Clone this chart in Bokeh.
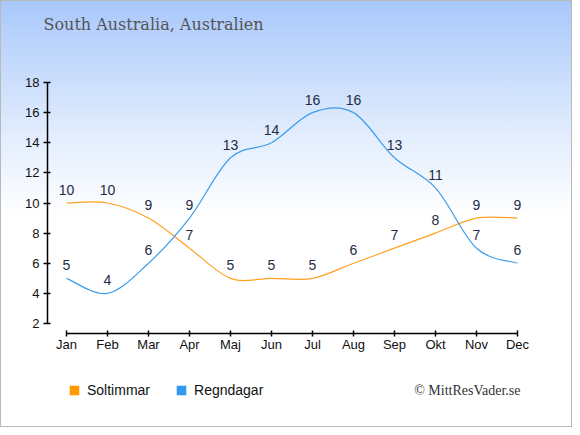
from bokeh.plotting import figure
from bokeh.models import Legend, LegendItem, Label, FixedTicker, Range1d
from bokeh.embed import file_html
from bokeh.resources import INLINE
from bokeh.core.properties import value

months = ["Jan", "Feb", "Mar", "Apr", "Maj", "Jun", "Jul", "Aug", "Sep", "Okt", "Nov", "Dec"]
soltimmar = [10, 10, 9, 7, 5, 5, 5, 6, 7, 8, 9, 9]
regndagar = [5, 4, 6, 9, 13, 14, 16, 16, 13, 11, 7, 6]
y_ticks = [2, 4, 6, 8, 10, 12, 14, 16, 18]
title_text = "South Australia, Australien"
credit_text = "© MittResVader.se"

ORANGE = "#ffa01e"
BLUE = "#3d9ce9"
LBL = "#1f2d44"

W, H = 572, 427
XPX = 41.0          # px per month
YPX = 241 / 16.0    # px per unit
x0 = -66 / XPX
y0 = 2 - (H - 323) / YPX

xs = list(range(len(months)))

p = figure(width=W, height=H, output_backend="svg", toolbar_location=None,
           x_range=Range1d(x0, x0 + W / XPX), y_range=Range1d(y0, y0 + H / YPX),
           min_border_left=0, min_border_right=0, min_border_top=0, min_border_bottom=0)
p.styles = {"background": "linear-gradient(to bottom, #a8c8fb 0px, #dce9fd 120px, #ffffff 215px, #ffffff 100%)",
            "box-shadow": "inset 0 0 0 1px #b9b9b9"}
p.background_fill_alpha = 0
p.border_fill_alpha = 0
p.outline_line_color = None
p.xgrid.visible = False
p.ygrid.visible = False

# axes placed inside the frame
p.xaxis.fixed_location = 2 - 10 / YPX
p.yaxis.fixed_location = x0 + 47 / XPX
p.xaxis.ticker = FixedTicker(ticks=xs)
p.xaxis.major_label_overrides = {i: m for i, m in enumerate(months)}
p.xaxis.bounds = (0, len(months) - 1)
p.yaxis.ticker = FixedTicker(ticks=y_ticks)
p.yaxis.bounds = (y_ticks[0], y_ticks[-1])
for ax in (p.xaxis, p.yaxis):
    ax.minor_tick_line_color = None
    ax.major_tick_in = 3
    ax.major_tick_out = 4
    ax.axis_line_color = "black"
    ax.major_tick_line_color = "black"
    ax.axis_line_width = 1.5
    ax.major_tick_line_width = 1.5
    ax.major_label_text_font = "Liberation Sans"
    ax.major_label_text_font_size = "13px"
    ax.major_label_text_color = "#111111"
p.xaxis.major_tick_out = 3
p.xaxis.major_label_standoff = 0
p.yaxis.major_label_standoff = 4


def bezier_parts(xv, yv):
    n = len(xv)
    out = dict(x0=[], y0=[], x1=[], y1=[], cx0=[], cy0=[], cx1=[], cy1=[])
    for i in range(n - 1):
        p0 = (xv[max(i - 1, 0)], yv[max(i - 1, 0)])
        p1 = (xv[i], yv[i])
        p2 = (xv[i + 1], yv[i + 1])
        p3 = (xv[min(i + 2, n - 1)], yv[min(i + 2, n - 1)])
        out["x0"].append(p1[0]); out["y0"].append(p1[1])
        out["x1"].append(p2[0]); out["y1"].append(p2[1])
        out["cx0"].append(p1[0] + (p2[0] - p0[0]) / 6)
        out["cy0"].append(p1[1] + (p2[1] - p0[1]) / 6)
        out["cx1"].append(p2[0] - (p3[0] - p1[0]) / 6)
        out["cy1"].append(p2[1] - (p3[1] - p1[1]) / 6)
    return out


p.bezier(line_color=ORANGE, line_width=1.2, **bezier_parts(xs, soltimmar))
p.bezier(line_color=BLUE, line_width=1.2, **bezier_parts(xs, regndagar))

for series in (soltimmar, regndagar):
    p.text(x=xs, y=series, text=[str(v) for v in series], text_align="center",
           text_baseline="middle", y_offset=-13, text_font=value("Liberation Sans"),
           text_font_size="14px", text_color=LBL)

# legend swatches: zero-area quads at the first data point (draw nothing on the plot)
r1 = p.quad(left=[xs[0]], right=[xs[0]], top=[soltimmar[0]], bottom=[soltimmar[0]],
            fill_color="#ff9900", line_color=None)
r2 = p.quad(left=[xs[0]], right=[xs[0]], top=[regndagar[0]], bottom=[regndagar[0]],
            fill_color="#3399ee", line_color=None)
legend = Legend(items=[LegendItem(label="Soltimmar", renderers=[r1]),
                       LegendItem(label="Regndagar", renderers=[r2])],
                orientation="horizontal", location=(68, 27),
                glyph_width=12, glyph_height=12, label_standoff=7, spacing=25,
                padding=0, margin=0, border_line_color=None, background_fill_alpha=0,
                label_text_font="Liberation Sans", label_text_font_size="14px",
                label_text_color="#111111", label_height=20)
p.add_layout(legend, "center")

p.add_layout(Label(x=43, y=H - 24, x_units="screen", y_units="screen", text=title_text,
                   text_font="DejaVu Serif", text_font_size="16px", text_color="#555555",
                   text_baseline="middle"))
p.add_layout(Label(x=520, y=H - 390, x_units="screen", y_units="screen", text=credit_text,
                   text_font="Liberation Serif", text_font_size="14px", text_color="#333333",
                   text_baseline="middle", text_align="right"))

open("out.html", "w").write(file_html(p, INLINE))
